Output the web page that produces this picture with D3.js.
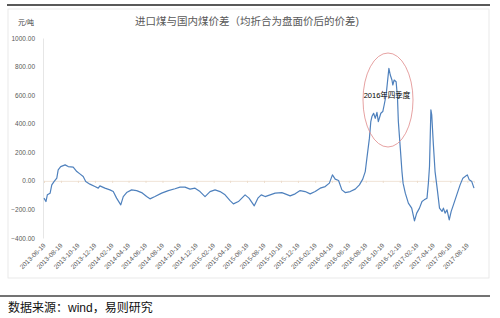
<!DOCTYPE html>
<html>
<head>
<meta charset="utf-8">
<script src="https://cdn.jsdelivr.net/npm/d3@7/dist/d3.min.js"></script>
<style>
  html, body { margin: 0; padding: 0; background: #fff; }
  svg { display: block; font-family: "Liberation Sans", "Noto Sans CJK SC", sans-serif; }
</style>
</head>
<body>
<svg id="svg"></svg>
<script>
var width = 500;
var height = 318;

// price spread (yuan/ton)
var dates = [
  "2013-06-19","2013-06-26","2013-07-01","2013-07-11","2013-07-17","2013-07-25","2013-08-04","2013-08-09",
  "2013-08-18","2013-09-03","2013-09-14","2013-10-02","2013-10-15","2013-10-26","2013-11-07","2013-11-16",
  "2013-12-01","2013-12-19","2013-12-31","2014-01-06","2014-01-24","2014-02-11","2014-02-23","2014-03-07",
  "2014-03-22","2014-03-31","2014-04-12","2014-04-30","2014-05-18","2014-06-05","2014-06-23","2014-07-05",
  "2014-07-23","2014-08-16","2014-09-09","2014-10-03","2014-10-21","2014-11-08","2014-11-26","2014-12-14",
  "2015-01-01","2015-01-19","2015-02-06","2015-02-24","2015-03-14","2015-04-01","2015-04-19","2015-05-01",
  "2015-05-19","2015-06-12","2015-06-26","2015-07-15","2015-07-28","2015-08-09","2015-08-23","2015-09-10",
  "2015-09-28","2015-10-22","2015-11-03","2015-11-21","2015-12-09","2015-12-27","2016-01-14","2016-02-01",
  "2016-02-19","2016-03-08","2016-03-26","2016-04-10","2016-04-21","2016-05-01","2016-05-13","2016-05-25",
  "2016-06-06","2016-06-24","2016-07-12","2016-07-27","2016-08-08","2016-08-17","2016-08-23","2016-09-01",
  "2016-09-06","2016-09-10","2016-09-16","2016-09-22","2016-09-28","2016-10-03","2016-10-12","2016-10-19",
  "2016-10-24","2016-10-31","2016-11-05","2016-11-10","2016-11-15","2016-11-21","2016-11-24","2016-11-29",
  "2016-12-06","2016-12-11","2016-12-14","2016-12-21","2016-12-27","2016-12-31","2017-01-08","2017-01-19",
  "2017-01-31","2017-02-10","2017-02-18","2017-02-28","2017-03-09","2017-03-17","2017-03-27","2017-04-01",
  "2017-04-05","2017-04-10","2017-04-13","2017-04-19","2017-04-25","2017-05-04","2017-05-11","2017-05-20",
  "2017-05-25","2017-05-31","2017-06-07","2017-06-15","2017-06-22","2017-06-30","2017-07-12","2017-07-24",
  "2017-08-03","2017-08-11","2017-08-19","2017-08-26","2017-09-04","2017-09-12"
];
var spread = [
  -121,-145,-98,-86,-28,-5,19,77,
  100,112,100,96,65,49,30,-5,
  -23,-40,-51,-35,-51,-63,-75,-121,
  -168,-110,-82,-63,-68,-82,-110,-126,
  -110,-86,-68,-55,-44,-44,-58,-51,
  -75,-110,-75,-63,-75,-98,-138,-161,
  -145,-98,-121,-175,-121,-98,-110,-98,
  -86,-82,-91,-105,-91,-68,-75,-91,
  -75,-51,-40,-16,42,12,2,-63,
  -82,-75,-58,-28,12,65,160,299,
  415,450,473,438,480,415,473,485,
  531,601,694,788,741,706,671,706,
  694,578,415,229,65,-16,-86,-156,
  -191,-280,-226,-191,-145,-133,-121,-16,
  100,497,462,252,65,-75,-191,-214,
  -191,-226,-203,-273,-214,-168,-98,-28,
  19,30,42,7,-5,-51
];

var yTicks = [-400, -200, 0, 200, 400, 600, 800, 1000];
var xTickLabels = [
  "2013-06-19","2013-08-19","2013-10-19","2013-12-19",
  "2014-02-19","2014-04-19","2014-06-19","2014-08-19","2014-10-19","2014-12-19",
  "2015-02-19","2015-04-19","2015-06-19","2015-08-19","2015-10-19","2015-12-19",
  "2016-02-19","2016-04-19","2016-06-19","2016-08-19","2016-10-19","2016-12-19",
  "2017-02-19","2017-04-19","2017-06-19","2017-08-19"
];

var parse = d3.timeParse("%Y-%m-%d");
var data = dates.map(function(d, i){ return {date: parse(d), value: spread[i]}; });

var svg = d3.select("#svg").attr("width", width).attr("height", height);

// frame lines
svg.append("line").attr("x1", 7).attr("x2", 490).attr("y1", 5).attr("y2", 5)
  .attr("stroke", "#222").attr("stroke-width", 1.5);
svg.append("rect").attr("x", 8).attr("y", 9).attr("width", 481).attr("height", 269)
  .attr("fill", "none").attr("stroke", "#e4e4e4").attr("stroke-width", 0.8);
svg.append("line").attr("x1", 0).attr("x2", 490).attr("y1", 296).attr("y2", 296)
  .attr("stroke", "#444").attr("stroke-width", 1.5);

var x = d3.scaleTime()
  .domain([parse("2013-06-19"), parse("2017-09-12")])
  .range([44, 474]);
var y = d3.scaleLinear().domain([-400, 1000]).range([238, 38]);

// y axis
var yAxis = svg.append("g").attr("transform", "translate(43,0)")
  .call(d3.axisLeft(y).tickValues(yTicks).tickSize(0).tickPadding(8).tickFormat(d3.format(".2f")));
yAxis.select(".domain").attr("stroke", "#e6e6e6");
yAxis.selectAll("text").attr("fill", "#595959").style("font-size", "6.5px");

// zero line acting as the category axis
var xAxis = svg.append("g").attr("transform", "translate(0," + y(0) + ")")
  .call(d3.axisBottom(x).tickValues(xTickLabels.map(parse)).tickSize(2).tickFormat(""));
xAxis.select(".domain").attr("stroke", "#ecdccb").attr("stroke-width", 0.8);
xAxis.selectAll(".tick line").attr("stroke", "#ecdccb");

// rotated date labels at the bottom
svg.append("g").selectAll("text").data(xTickLabels).enter().append("text")
  .attr("transform", function(d){ return "translate(" + (x(parse(d)) + 2) + ",246) rotate(-45)"; })
  .attr("text-anchor", "end")
  .attr("fill", "#595959")
  .style("font-size", "6.5px")
  .text(function(d){ return d; });

// series
var line = d3.line().x(function(d){ return x(d.date); }).y(function(d){ return y(d.value); });
svg.append("path").datum(data)
  .attr("d", line)
  .attr("fill", "none")
  .attr("stroke", "#4f81bd")
  .attr("stroke-width", 1.2)
  .attr("stroke-linejoin", "round");

// titles
svg.append("text").attr("x", 247).attr("y", 25).attr("text-anchor", "middle")
  .attr("fill", "#595959").style("font-size", "10.5px")
  .text("进口煤与国内煤价差（均折合为盘面价后的价差)");
svg.append("text").attr("x", 18).attr("y", 25)
  .attr("fill", "#404040").style("font-size", "7px")
  .text("元/吨");

// annotation
svg.append("ellipse").attr("cx", 388).attr("cy", 100).attr("rx", 25).attr("ry", 47)
  .attr("fill", "none").attr("stroke", "#e08a8a").attr("stroke-width", 0.8);
svg.append("text").attr("x", 387).attr("y", 98).attr("text-anchor", "middle")
  .attr("fill", "#000").style("font-size", "7.5px")
  .text("2016年四季度");

// source
svg.append("text").attr("x", 8).attr("y", 312)
  .attr("fill", "#111").style("font-size", "12px")
  .text("数据来源：wind，易则研究");
</script>
</body>
</html>
